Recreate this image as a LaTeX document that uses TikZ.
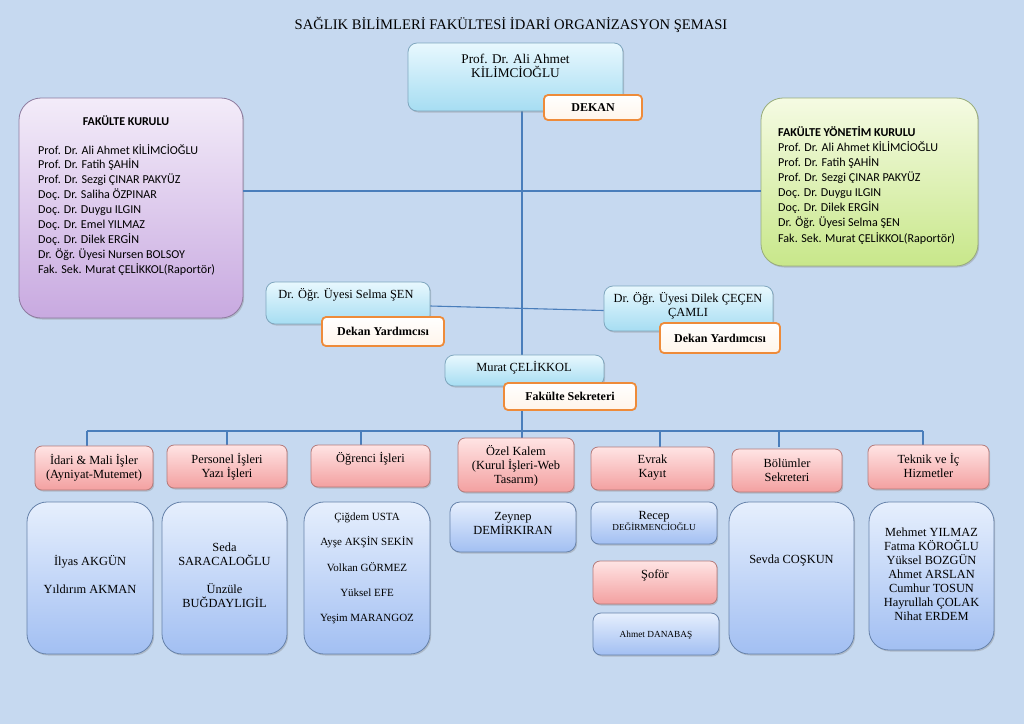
\documentclass[tikz,border=0pt]{standalone}
\usepackage{fontspec}
\setmainfont{Liberation Serif}
\newfontfamily\calib{Carlito}
\usetikzlibrary{shadows}
\definecolor{bg}{HTML}{C6D9F0}
\definecolor{linec}{HTML}{4A7EBB}
\definecolor{cyant}{HTML}{E8F8FE}
\definecolor{cyanb}{HTML}{A6DDF2}
\definecolor{cyand}{HTML}{7FA6BE}
\definecolor{bluet}{HTML}{E6EFFD}
\definecolor{blueb}{HTML}{A2BFF2}
\definecolor{blued}{HTML}{6682AA}
\definecolor{redt}{HTML}{FFE4E4}
\definecolor{redb}{HTML}{F3A0A0}
\definecolor{redd}{HTML}{B47A7A}
\definecolor{purt}{HTML}{F3ECF9}
\definecolor{purb}{HTML}{C8A9E0}
\definecolor{purd}{HTML}{8C7A9E}
\definecolor{grnt}{HTML}{F5FBE3}
\definecolor{grnb}{HTML}{C8E78A}
\definecolor{grnd}{HTML}{98AC7A}
\definecolor{orng}{HTML}{EE8B3A}
\begin{document}
\begin{tikzpicture}[x=1pt,y=-1pt,
  txt/.style={font=\fontsize{12.4}{14}\selectfont, align=center, inner sep=0pt},
  shade/.style={drop shadow={opacity=0.35, shadow xshift=1.2pt, shadow yshift=-1.5pt}},
  cyanbox/.style={shade, draw=cyand, line width=0.8pt, top color=cyant, bottom color=cyanb, rounded corners=9pt, inner sep=0pt},
  bluebox/.style={shade, draw=blued, line width=0.8pt, top color=bluet, bottom color=blueb, rounded corners=#1, inner sep=0pt},
  bluebox/.default=9pt,
  redbox/.style={shade, draw=redd, line width=0.8pt, top color=redt, bottom color=redb, rounded corners=7pt, inner sep=0pt},
  labbox/.style={draw=orng, line width=1.8pt, top color=white, bottom color=white!92!orange, rounded corners=4pt, inner sep=0pt, font=\bfseries\fontsize{12}{14}\selectfont},
  conn/.style={draw=linec, line width=1.1pt},
  kbox/.style={shade, line width=0.8pt, rounded corners=22pt, inner sep=0pt},
  ktxt/.style={font=\calib\fontsize{12.1}{14.9}\selectfont, align=left, inner sep=0pt, anchor=north west}
]
\fill[bg] (0,0) rectangle (1024,724);
\useasboundingbox (0,0) rectangle (1024,724);

% title
\node[font=\fontsize{14.6}{16}\selectfont, inner sep=0pt] (title) at (511,25) {SAĞLIK BİLİMLERİ FAKÜLTESİ İDARİ ORGANİZASYON ŞEMASI};

% coordinates for connectors
\coordinate (hy) at (522,191);
\coordinate (busc) at (522,431);
\coordinate (t1) at (87,431);
\coordinate (t2) at (227,431);
\coordinate (t3) at (361,431);
\coordinate (t5) at (660,431);
\coordinate (t6) at (779,431);
\coordinate (t7) at (923,431);

% kurul boxes
\node[kbox, draw=purd, top color=purt, bottom color=purb, minimum width=224pt, minimum height=220pt] (kurul) at (131,208) {};
\node[kbox, draw=grnd, top color=grnt, bottom color=grnb, minimum width=217pt, minimum height=168pt] (yonetim) at (869.5,182) {};

% connectors
\path[conn] (kurul.east |- hy) -- (yonetim.west |- hy);
\path[conn] (522,111) coordinate (dk) -- (busc);
\path[conn] (t1) -- (t7);
\foreach \t in {t1,t2,t3,t5,t6,t7} { \path[conn] (\t) -- ++(0,16); }
\path[conn] (busc) -- ++(0,8);

% Dekan
\node[cyanbox, minimum width=215pt, minimum height=68pt] (dekan) at (515.5,77) {};
\node[txt, font=\fontsize{13.3}{14}\selectfont] (dekant) at (515.5,66) {Prof. Dr. Ali Ahmet\\KİLİMCİOĞLU};
\node[labbox, minimum width=98pt, minimum height=25pt] (dekanl) at (593,107.5) {DEKAN};

% kurul texts
\node[font=\calib\bfseries\fontsize{12}{14}\selectfont, inner sep=0pt] (kurult) at (126,121) {FAKÜLTE KURULU};
\node[ktxt] (kurull) at (38,144) {Prof. Dr. Ali Ahmet KİLİMCİOĞLU\\Prof. Dr. Fatih ŞAHİN\\Prof. Dr. Sezgi ÇINAR PAKYÜZ\\Doç. Dr. Saliha ÖZPINAR\\Doç. Dr. Duygu ILGIN\\Doç. Dr. Emel YILMAZ\\Doç. Dr. Dilek ERGİN\\Dr. Öğr. Üyesi Nursen BOLSOY\\Fak. Sek. Murat ÇELİKKOL(Raportör)};
\node[ktxt, font=\calib\fontsize{12.1}{15.1}\selectfont] (yonetiml) at (778,126) {\textbf{FAKÜLTE YÖNETİM KURULU}\\Prof. Dr. Ali Ahmet KİLİMCİOĞLU\\Prof. Dr. Fatih ŞAHİN\\Prof. Dr. Sezgi ÇINAR PAKYÜZ\\Doç. Dr. Duygu ILGIN\\Doç. Dr. Dilek ERGİN\\Dr. Öğr. Üyesi Selma ŞEN\\Fak. Sek. Murat ÇELİKKOL(Raportör)};

% Dekan yardimcilari
\node[cyanbox, minimum width=164pt, minimum height=42pt] (selma) at (348,303) {};
\node[cyanbox, minimum width=169pt, minimum height=45pt] (dilek) at (688.5,308.5) {};
\path[conn] ([yshift=-3pt]selma.east) -- ([yshift=-2pt]dilek.west);
\node[txt] (selmat) at (346,295) {Dr. Öğr. Üyesi Selma ŞEN};
\node[txt] (dilekt) at (688,306) {Dr. Öğr. Üyesi Dilek ÇEÇEN\\ÇAMLI};
\node[labbox, minimum width=122pt, minimum height=29pt] (selmal) at (383,331.5) {Dekan Yardımcısı};
\node[labbox, minimum width=120pt, minimum height=30pt] (dilekl) at (720,338) {Dekan Yardımcısı};

% Fakulte sekreteri
\node[cyanbox, minimum width=159pt, minimum height=31pt] (murat) at (524.5,370.5) {};
\node[txt] (muratt) at (524,368) {Murat ÇELİKKOL};
\node[labbox, minimum width=132pt, minimum height=27pt] (muratl) at (570,396.5) {Fakülte Sekreteri};

% red unit boxes
\node[redbox, minimum width=118pt, minimum height=44pt] (r1) at (94,468) {};
\node[txt] (r1t) at (94,468) {İdari \& Mali İşler\\(Ayniyat-Mutemet)};
\node[redbox, minimum width=120pt, minimum height=43pt] (r2) at (227,466.5) {};
\node[txt] (r2t) at (227,467) {Personel İşleri\\Yazı İşleri};
\node[redbox, minimum width=119pt, minimum height=42pt] (r3) at (370.5,466) {};
\node[txt] (r3t) at (370.5,459) {Öğrenci İşleri};
\node[redbox, minimum width=116pt, minimum height=54pt] (r4) at (516,465) {};
\node[txt] (r4t) at (516,465.5) {Özel Kalem\\(Kurul İşleri-Web\\Tasarım)};
\node[redbox, minimum width=123pt, minimum height=43pt] (r5) at (652.5,468.5) {};
\node[txt] (r5t) at (652.5,468) {Evrak\\Kayıt};
\node[redbox, minimum width=110pt, minimum height=43pt] (r6) at (787,470.5) {};
\node[txt] (r6t) at (787,470) {Bölümler\\Sekreteri};
\node[redbox, minimum width=121pt, minimum height=44pt] (r7) at (928.5,467) {};
\node[txt] (r7t) at (928.5,465) {Teknik ve İç\\Hizmetler};

% blue staff boxes
\node[bluebox=20pt, minimum width=126pt, minimum height=152pt] (b1) at (90,578) {};
\node[txt, font=\fontsize{12.4}{28}\selectfont] (b1t) at (90,574) {İlyas AKGÜN\\Yıldırım AKMAN};
\node[bluebox=20pt, minimum width=125pt, minimum height=152pt] (b2) at (224.5,578) {};
\node[txt] (b2t) at (224.5,575) {Seda\\SARACALOĞLU\\[14pt]Ünzüle\\BUĞDAYLIGİL};
\node[bluebox=20pt, minimum width=126pt, minimum height=152pt] (b3) at (367,578) {};
\node[txt, font=\fontsize{11}{25.2}\selectfont] (b3t) at (367,568.5) {Çiğdem USTA\\Ayşe AKŞİN SEKİN\\Volkan GÖRMEZ\\Yüksel EFE\\Yeşim MARANGOZ};
\node[bluebox=10pt, minimum width=126pt, minimum height=50pt] (b4) at (513,527) {};
\node[txt] (b4t) at (513,523) {Zeynep\\DEMİRKIRAN};
\node[bluebox=8pt, minimum width=126pt, minimum height=42pt] (b5) at (654,523) {};
\node[txt, font=\fontsize{12.4}{11}\selectfont] (b5t) at (654,521) {Recep\\{\fontsize{9.2}{11}\selectfont DEĞİRMENCİOĞLU}};
\node[redbox, minimum width=124pt, minimum height=43pt] (s6) at (655,582.5) {};
\node[txt] (s6t) at (655,575) {Şoför};
\node[bluebox=8pt, minimum width=126pt, minimum height=42pt] (b7) at (656,634) {};
\node[txt, font=\fontsize{9.3}{11}\selectfont] (b7t) at (656,635) {Ahmet DANABAŞ};
\node[bluebox=20pt, minimum width=125pt, minimum height=152pt] (b8) at (791.5,578) {};
\node[txt] (b8t) at (791.5,561) {Sevda COŞKUN};
\node[bluebox=20pt, minimum width=125pt, minimum height=148pt] (b9) at (931.5,576) {};
\node[txt] (b9t) at (931.5,574) {Mehmet YILMAZ\\Fatma KÖROĞLU\\Yüksel BOZGÜN\\Ahmet ARSLAN\\Cumhur TOSUN\\Hayrullah ÇOLAK\\Nihat ERDEM};
\end{tikzpicture}
\end{document}
